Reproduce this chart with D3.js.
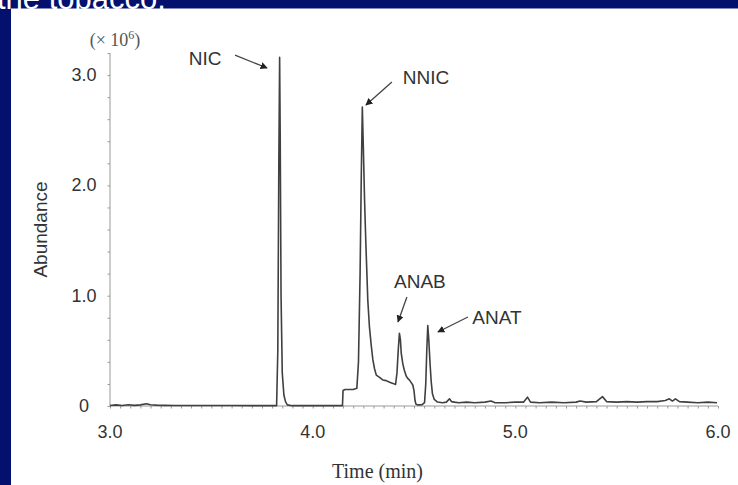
<!DOCTYPE html>
<html>
<head>
<meta charset="utf-8">
<script src="https://cdn.jsdelivr.net/npm/d3@7"></script>
<style>
    body { margin: 0; background: #03106e; }
    #chart { width: 738px; height: 485px; }
</style>
</head>
<body>
<div id="chart"></div>
<script>
// retention time (min) and abundance (x 10^6)
const times = [3.00, 3.03, 3.06, 3.09, 3.12, 3.15, 3.18, 3.20, 3.23, 3.27, 3.32, 3.40, 3.50, 3.60, 3.70, 3.80, 3.822,
    3.828, 3.833, 3.837, 3.840, 3.844, 3.850, 3.858, 3.866, 3.875, 3.90, 4.00, 4.10, 4.147,
    4.150, 4.160, 4.200, 4.218,
    4.226, 4.234, 4.240, 4.245, 4.250, 4.256, 4.262, 4.272, 4.280, 4.289, 4.297, 4.305, 4.314, 4.330, 4.346, 4.363, 4.380, 4.396, 4.409,
    4.416, 4.422, 4.428, 4.433, 4.437, 4.445, 4.453, 4.462, 4.469, 4.478, 4.487, 4.494, 4.500, 4.505, 4.510, 4.520, 4.540, 4.552,
    4.558, 4.563, 4.568, 4.573, 4.579, 4.585, 4.591, 4.600, 4.616, 4.640, 4.660, 4.675, 4.685, 4.700,
    4.72, 4.76, 4.80, 4.85, 4.88, 4.90, 4.95, 5.00, 5.04, 5.06, 5.075, 5.12, 5.18, 5.24, 5.30, 5.32, 5.35, 5.40, 5.43, 5.45,
    5.50, 5.55, 5.60, 5.65, 5.70, 5.74, 5.76, 5.775, 5.79, 5.81, 5.85, 5.90, 5.95, 5.995];
const abundance = [0.005, 0.01, 0.005, 0.012, 0.006, 0.01, 0.02, 0.012, 0.008, 0.006, 0.005, 0.004, 0.004, 0.004, 0.003, 0.003, 0.003,
    0.5, 2.2, 3.16, 2.4, 1.0, 0.3, 0.1, 0.04, 0.01, 0.003, 0.003, 0.003, 0.003,
    0.14, 0.15, 0.15, 0.16,
    0.4, 1.2, 2.1, 2.71, 2.35, 1.87, 1.5, 0.96, 0.72, 0.55, 0.42, 0.34, 0.28, 0.26, 0.236, 0.23, 0.215, 0.205, 0.195,
    0.3, 0.5, 0.66, 0.6, 0.48, 0.38, 0.32, 0.27, 0.25, 0.235, 0.21, 0.19, 0.14, 0.05, 0.015, 0.01, 0.012, 0.03,
    0.2, 0.5, 0.73, 0.6, 0.39, 0.22, 0.11, 0.06, 0.036, 0.03, 0.035, 0.065, 0.04, 0.035,
    0.03, 0.035, 0.03, 0.035, 0.045, 0.03, 0.03, 0.035, 0.035, 0.08, 0.035, 0.03, 0.035, 0.03, 0.035, 0.045, 0.035, 0.04, 0.085, 0.04,
    0.035, 0.04, 0.035, 0.04, 0.04, 0.05, 0.065, 0.045, 0.065, 0.04, 0.035, 0.03, 0.035, 0.03];

const xTicks = [3, 4, 5, 6];
const xTickLabels = ["3.0", "4.0", "5.0", "6.0"];
const yTicks = [0, 1, 2, 3];
const yTickLabels = ["0", "1.0", "2.0", "3.0"];

// peak labels: text spot, arrow tail, arrow tip (time, abundance)
const peakNames = ["NIC", "NNIC", "ANAB", "ANAT"];
const labelT = [3.469, 4.559, 4.529, 4.909];
const labelV = [3.155, 2.983, 1.133, 0.807];
const tailT = [3.617, 4.391, 4.465, 4.766];
const tailV = [3.18, 2.937, 0.988, 0.807];
const tipT = [3.775, 4.263, 4.421, 4.618];
const tipV = [3.064, 2.729, 0.762, 0.671];

class Chromatogram {

    constructor(parentElement) {
        this.parentElement = parentElement
        this.initVis()
    }

    initVis() {
        let vis = this

        vis.width = 738
        vis.height = 485

        vis.svg = d3.select("#" + vis.parentElement).append("svg")
            .attr("width", vis.width)
            .attr("height", vis.height)

        // slide title peeking out above the panel
        vis.svg.append("text")
            .attr("x", -3).attr("y", 8.5)
            .attr("fill", "white")
            .attr("font-family", "Liberation Sans, Arial, sans-serif")
            .attr("font-size", 31)
            .text("the tobacco.")

        vis.svg.append("rect")
            .attr("x", 11).attr("y", 8.5)
            .attr("width", vis.width - 11).attr("height", vis.height - 8.5)
            .attr("fill", "white")

        vis.x = d3.scaleLinear().domain([3, 6]).range([110, 718])
        vis.y = d3.scaleLinear().domain([0, 3.2]).range([406, 53])

        vis.svg.append("defs").append("marker")
            .attr("id", "head")
            .attr("viewBox", "0 0 10 10")
            .attr("refX", 9).attr("refY", 5)
            .attr("markerWidth", 5.5).attr("markerHeight", 5.5)
            .attr("markerUnits", "strokeWidth")
            .attr("orient", "auto")
            .append("path").attr("d", "M0,0 L10,5 L0,10 z").attr("fill", "#222")

        vis.updateVis()
    }

    updateVis() {
        let vis = this
        let sans = "Liberation Sans, Arial, sans-serif"
        let serif = "Liberation Serif, Times New Roman, serif"

        // axes
        let xAxis = d3.axisBottom(vis.x)
            .tickValues(d3.range(3, 6.001, 0.05)).tickSize(2.5).tickFormat("")
        vis.svg.append("g").attr("transform", "translate(0," + vis.y(0) + ")")
            .call(xAxis)
            .call(g => g.selectAll("line, path").attr("stroke", "#999"))
            .call(g => g.select(".domain").attr("d", "M" + vis.x(3) + ",0H" + vis.x(6)))

        let yAxis = d3.axisLeft(vis.y)
            .tickValues(d3.range(0, 3.21, 0.2)).tickSize(2.5).tickFormat("")
        vis.svg.append("g").attr("transform", "translate(" + vis.x(3) + ",0)")
            .call(yAxis)
            .call(g => g.selectAll("line, path").attr("stroke", "#999"))
            .call(g => g.select(".domain").attr("d", "M0," + vis.y(0) + "V" + vis.y(3.2)))

        vis.svg.append("g").selectAll("text").data(xTicks).join("text")
            .attr("x", d => vis.x(d)).attr("y", vis.y(0) + 32)
            .attr("text-anchor", "middle")
            .attr("font-family", sans).attr("font-size", 18).attr("fill", "#333")
            .text((d, i) => xTickLabels[i])

        vis.svg.append("g").selectAll("text").data(yTicks).join("text")
            .attr("x", vis.x(3) - 26).attr("y", d => vis.y(d) + 6)
            .attr("text-anchor", "middle")
            .attr("font-family", sans).attr("font-size", 18).attr("fill", "#333")
            .text((d, i) => yTickLabels[i])

        vis.svg.append("text")
            .attr("transform", "translate(47," + vis.y(1.6) + ") rotate(-90)")
            .attr("text-anchor", "middle")
            .attr("font-family", sans).attr("font-size", 19).attr("fill", "#333")
            .text("Abundance")

        let unit = vis.svg.append("text")
            .attr("x", 115).attr("y", 46)
            .attr("text-anchor", "middle")
            .attr("font-family", serif).attr("font-size", 18).attr("fill", "#555")
        unit.append("tspan").text("(× 10")
        unit.append("tspan").attr("dy", -7).attr("font-size", 12).text("6")
        unit.append("tspan").attr("dy", 7).text(")")

        vis.svg.append("text")
            .attr("x", vis.x(4.32)).attr("y", 478)
            .attr("text-anchor", "middle")
            .attr("font-family", serif).attr("font-size", 20).attr("fill", "#333")
            .text("Time (min)")

        // trace
        let points = times.map((t, i) => [t, abundance[i]])
        vis.svg.append("path")
            .datum(points)
            .attr("fill", "none")
            .attr("stroke", "#404040")
            .attr("stroke-width", 1.6)
            .attr("stroke-linejoin", "round")
            .attr("d", d3.line().x(d => vis.x(d[0])).y(d => vis.y(d[1])))

        // peak annotations
        vis.svg.append("g").selectAll("line").data(peakNames).join("line")
            .attr("x1", (d, i) => vis.x(tailT[i])).attr("y1", (d, i) => vis.y(tailV[i]))
            .attr("x2", (d, i) => vis.x(tipT[i])).attr("y2", (d, i) => vis.y(tipV[i]))
            .attr("stroke", "#444").attr("stroke-width", 1.3)
            .attr("marker-end", "url(#head)")

        vis.svg.append("g").selectAll("text").data(peakNames).join("text")
            .attr("x", (d, i) => vis.x(labelT[i])).attr("y", (d, i) => vis.y(labelV[i]) + 7)
            .attr("text-anchor", "middle")
            .attr("font-family", sans).attr("font-size", 19).attr("fill", "#333")
            .text(d => d)
    }
}

new Chromatogram("chart")
</script>
</body>
</html>
